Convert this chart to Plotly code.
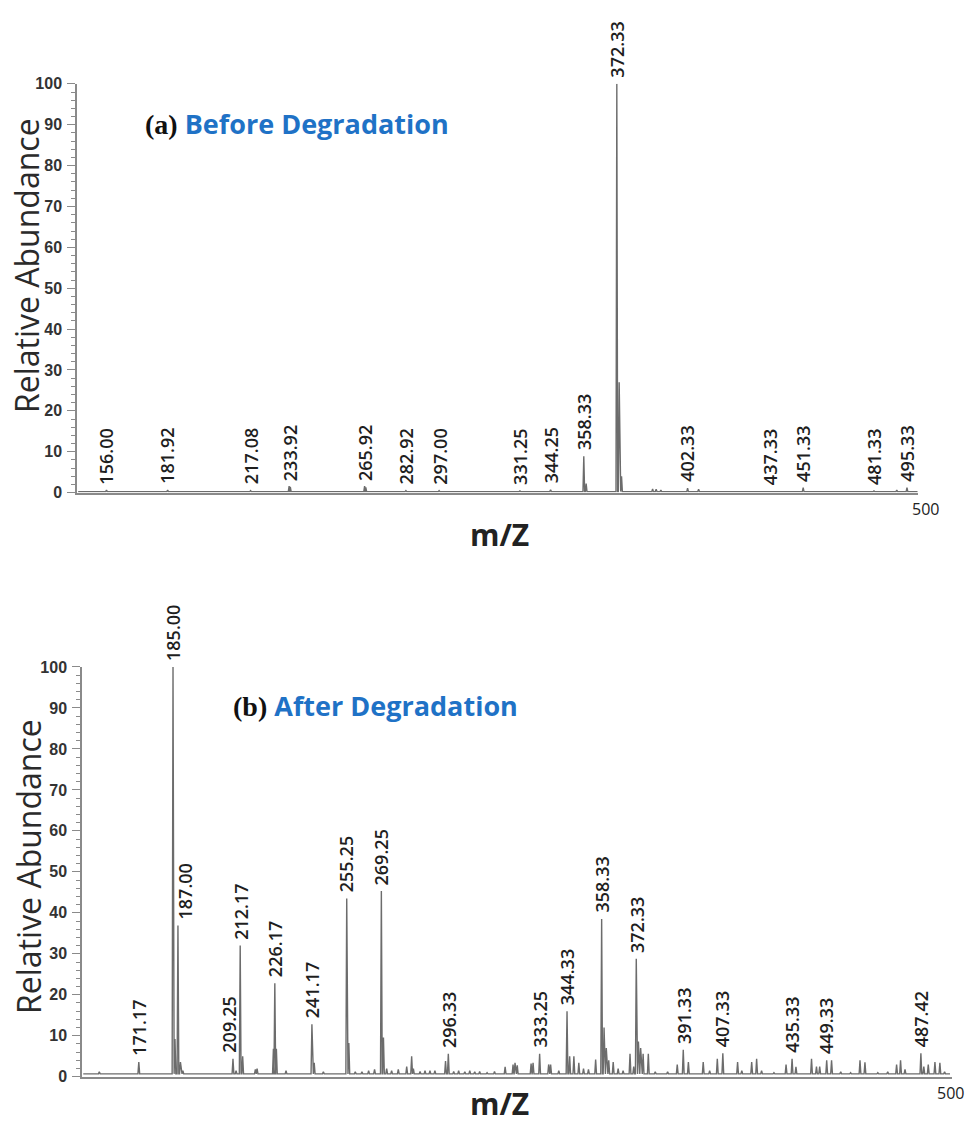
import plotly.graph_objects as go

# ---------------- (a) before degradation: peak list (m/z, relative abundance) ----------------
mz_a = [156.00, 165.00, 181.92, 217.08, 233.42, 233.92, 265.42, 265.92, 282.92, 297.00,
        331.25, 344.25, 358.33, 359.33, 372.33, 373.33, 374.33, 387.50, 389.00, 391.00,
        402.33, 407.00, 437.33, 451.33, 481.33, 491.00, 495.33]
ab_a = [0.6, 0.3, 0.6, 0.5, 1.6, 1.4, 1.6, 1.3, 0.5, 0.5,
        0.4, 0.7, 8.9, 2.2, 100.0, 27.0, 4.0, 0.9, 0.8, 0.6,
        1.1, 0.8, 0.4, 1.2, 0.4, 0.6, 1.2]
labels_a = [156.00, 181.92, 217.08, 233.92, 265.92, 282.92, 297.00, 331.25, 344.25,
            358.33, 372.33, 402.33, 437.33, 451.33, 481.33, 495.33]

# ---------------- (b) after degradation ----------------
mz_b = [155.2, 171.17, 185.00, 185.80, 187.00, 188.0, 189.0,
        209.25, 210.5, 212.17, 213.17, 218.3, 219.0,
        225.6, 226.17, 226.8, 230.7,
        241.17, 242.1, 245.8,
        255.25, 256.1, 258.7, 261.4, 264.1, 266.5,
        269.25, 270.1, 271.4, 273.4, 276.1, 279.5, 281.5, 282.2, 284.9, 286.9, 288.9, 290.9,
        295.2, 296.33, 298.5, 300.5, 303.0, 305.0, 307.0, 309.0, 312.0, 315.0, 319.3,
        322.5, 323.3, 324.2, 329.8, 330.6, 333.25, 336.9, 337.7, 341.0,
        344.33, 345.4, 347.1, 349.1, 351.0, 353.0, 355.9,
        358.33, 359.3, 360.2, 361.2, 363.0, 365.0, 367.0, 369.8, 371.3,
        372.33, 373.2, 374.1, 375.1, 377.2, 380.0, 385.0, 388.9,
        391.33, 393.4, 399.4, 402.0, 405.1, 407.33, 413.3, 415.0, 419.0, 421.0, 423.0,
        428.0, 432.9, 435.33, 436.9, 443.2, 445.2, 446.5, 449.33, 451.3, 455.0, 459.0,
        462.8, 464.8, 470.0, 474.0, 477.6, 479.2, 481.0,
        487.42, 488.6, 490.4, 493.1, 495.1, 497.0]
ab_b = [1.2, 3.6, 100.0, 9.2, 36.9, 3.6, 1.5,
        4.4, 1.5, 32.0, 5.0, 1.8, 2.0,
        6.8, 22.8, 6.8, 1.5,
        12.8, 3.4, 1.2,
        43.5, 8.2, 1.2, 1.2, 1.5, 1.8,
        45.3, 9.6, 2.0, 1.5, 1.8, 2.5, 5.0, 2.0, 1.3, 1.5, 1.5, 1.5,
        3.8, 5.6, 1.3, 1.5, 1.2, 1.5, 1.2, 1.3, 1.0, 1.3, 2.4,
        3.0, 3.4, 2.8, 3.2, 3.4, 5.6, 3.0, 3.0, 1.5,
        16.0, 5.0, 5.0, 3.4, 2.0, 1.8, 4.2,
        38.5, 12.0, 7.0, 4.0, 3.6, 2.0, 1.5, 5.6, 2.5,
        28.8, 8.6, 7.0, 5.6, 5.6, 1.2, 1.2, 3.0,
        6.6, 3.6, 3.6, 1.5, 4.4, 5.7, 3.6, 1.5, 3.6, 4.4, 1.5,
        1.0, 3.0, 4.4, 2.4, 4.4, 2.5, 2.5, 4.0, 4.0, 1.2, 1.0,
        4.0, 3.5, 1.0, 1.2, 3.0, 4.0, 1.8,
        5.7, 2.5, 3.0, 3.6, 3.4, 1.2]
labels_b = [171.17, 185.00, 187.00, 209.25, 212.17, 226.17, 241.17, 255.25, 269.25,
            296.33, 333.25, 344.33, 358.33, 372.33, 391.33, 407.33, 435.33, 449.33, 487.42]

baseline_a = 0.25
baseline_b = 0.7
range_a = [143.5, 500]
range_b = [148.2, 500]

W, H = 970, 1134
LINE = "#6c6c6c"
AXIS = "#8a8a8a"
LABEL_FONT = dict(family="Open Sans, Noto Sans, sans-serif", size=18, color="#1e1e1e", weight=600)


def profile(mz, ab, base, x0, x1, half=0.35):
    """Turn a centroid peak list into a narrow-peaked profile trace."""
    xs, ys = [x0], [base]
    for m, a in sorted(zip(mz, ab)):
        xs += [m - half, m, m + half]
        ys += [base, a, base]
    xs.append(x1)
    ys.append(base)
    return xs, ys


def px_x(px):
    return px / W


def px_y(py):
    return 1 - py / H


fig = go.Figure()

xa, ya = profile(mz_a, ab_a, baseline_a, range_a[0] + 0.5, 499.8)
fig.add_trace(go.Scatter(x=xa, y=ya, mode="lines", line=dict(color=LINE, width=1.4),
                         xaxis="x", yaxis="y", cliponaxis=False, hoverinfo="skip"))
xb, yb = profile(mz_b, ab_b, baseline_b, range_b[0] + 0.5, 499.2)
fig.add_trace(go.Scatter(x=xb, y=yb, mode="lines", line=dict(color=LINE, width=1.4),
                         xaxis="x2", yaxis="y2", cliponaxis=False, hoverinfo="skip"))

annotations = []

# peak labels, rotated, sitting just above each labelled peak
shift_b = {187.00: 7, 209.25: -4}
for labels, mz, ab, xr, yr, shifts in [
    (labels_a, mz_a, ab_a, "x", "y", {}),
    (labels_b, mz_b, ab_b, "x2", "y2", shift_b),
]:
    height = dict(zip(mz, ab))
    for m in labels:
        annotations.append(dict(
            x=m, y=height[m], xref=xr, yref=yr, text=f"{m:.2f}", textangle=-90,
            showarrow=False, xanchor="center", yanchor="bottom", yshift=4,
            xshift=shifts.get(m, 0), font=LABEL_FONT))

# "500" at the right end of each m/z axis
for xr, yr, dx in [("x", "y", 7), ("x2", "y2", -2)]:
    annotations.append(dict(x=500, y=0, xref=xr, yref=yr, text="500", showarrow=False,
                            xanchor="center", yanchor="top", xshift=dx, yshift=-3,
                            font=dict(family="Open Sans, sans-serif", size=16, color="#222")))

# axis titles
for cy in [535, 1112]:
    annotations.append(dict(x=px_x(500), y=px_y(cy), xref="paper", yref="paper", text="<b>m/Z</b>",
                            showarrow=False, xanchor="center", yanchor="middle",
                            font=dict(family="Open Sans, sans-serif", size=30, color="#222")))
for cx, cy in [(26, 262), (29, 872)]:
    annotations.append(dict(x=px_x(cx), y=px_y(cy), xref="paper", yref="paper",
                            text="Relative Abundance", textangle=-90, showarrow=False,
                            xanchor="center", yanchor="middle",
                            font=dict(family="Open Sans, sans-serif", size=32, color="#2a2a2a",
                                      weight=500)))

# panel captions
SERIF = "font-family:'Liberation Serif','Times New Roman',serif;color:#111;font-size:28px"
for x0, cy, tag, caption in [(143, 117, "(a)", "Before Degradation"),
                             (231, 708, "(b)", "After Degradation")]:
    annotations.append(dict(x=px_x(x0), y=px_y(cy), xref="paper", yref="paper",
                            text=f"<b><span style=\"{SERIF}\">{tag}</span> {caption}</b>",
                            showarrow=False, xanchor="left", yanchor="middle",
                            font=dict(family="Open Sans, sans-serif", size=27, color="#1f72c6")))

yaxis_style = dict(
    range=[0, 100], tickvals=list(range(0, 101, 10)), ticks="outside", ticklen=8, tickwidth=1.2,
    tickcolor=AXIS, showline=True, linecolor=AXIS, linewidth=1.5, showgrid=False, zeroline=False,
    minor=dict(dtick=2, ticks="outside", ticklen=4, tickcolor=AXIS, tickwidth=1),
    tickfont=dict(family="Liberation Sans, Arial, sans-serif",
                  size=16, color="#333", weight="bold"),
    ticklabelstandoff=2,
)
xaxis_style = dict(showline=True, linecolor=AXIS, linewidth=1.5, ticks="", showticklabels=False,
                   showgrid=False, zeroline=False)

fig.update_layout(
    width=W, height=H, margin=dict(l=0, r=0, t=0, b=0),
    paper_bgcolor="white", plot_bgcolor="white", showlegend=False,
    xaxis=dict(domain=[px_x(77), px_x(918)], range=range_a, anchor="y", **xaxis_style),
    yaxis=dict(domain=[px_y(492), px_y(77)], anchor="x", **yaxis_style),
    xaxis2=dict(domain=[px_x(82), px_x(952)], range=range_b, anchor="y2", **xaxis_style),
    yaxis2=dict(domain=[px_y(1085), px_y(669)], anchor="x2", **yaxis_style),
    annotations=annotations,
)

fig.write_html("out.html")
